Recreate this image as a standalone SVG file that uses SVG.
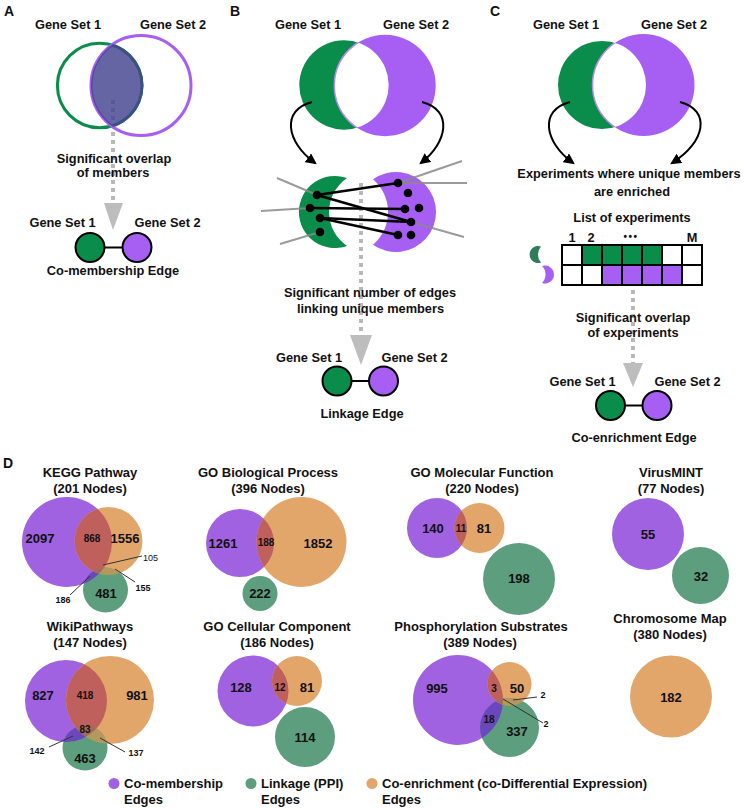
<svg xmlns="http://www.w3.org/2000/svg" width="744" height="809" viewBox="0 0 744 809">
<style>
text{font-family:"Liberation Sans",Arial,sans-serif;font-weight:bold;fill:#111}
.t{font-size:12.8px;text-anchor:middle}
.lab{font-size:14px}
.h{font-size:13px;text-anchor:middle}
.n{font-size:13px;text-anchor:middle}
.s{font-size:10px;text-anchor:middle}
.x{font-size:9px}
.lg{font-size:13px}
.dot{fill:none;stroke:#b8b8b8;stroke-width:4;stroke-dasharray:4 4}
.ah{fill:#bdbdbd}
.node{stroke:#000;stroke-width:2}
.g1{fill:#0a8c4a}
.p1{fill:#a65ff2}
.cv{fill:none;stroke:#000;stroke-width:2}
.bl{stroke:#000;stroke-width:2.5}
.gl{stroke:#8a8a8a;stroke-width:2;opacity:.85}
.P{fill:#a062e0}.O{fill:#e2a66b}.G{fill:#5c9e7e}
.PO{fill:#c0605c}.PG{fill:#6b47bd}.OG{fill:#b39a5c}.POG{fill:#a26b55}
.ld{stroke:#333;stroke-width:1}
</style>
<defs>
<marker id="arr" viewBox="0 0 10 10" refX="8" refY="5" markerWidth="11" markerHeight="11" markerUnits="userSpaceOnUse" orient="auto"><path d="M0,0 L10,5 L0,10 z" fill="#000"/></marker>
<clipPath id="cA"><circle cx="141" cy="85.5" r="50"/></clipPath>
<clipPath id="cB"><circle cx="344" cy="85" r="44.7"/></clipPath>
<clipPath id="cC"><circle cx="602" cy="85" r="44"/></clipPath>
<clipPath id="kP"><circle cx="67" cy="542" r="45"/></clipPath>
<clipPath id="kO"><circle cx="108.5" cy="541" r="34"/></clipPath>
<clipPath id="bP"><circle cx="240" cy="543" r="34"/></clipPath>
<clipPath id="mP"><circle cx="437" cy="528" r="30"/></clipPath>
<clipPath id="wP"><circle cx="66" cy="701" r="41"/></clipPath>
<clipPath id="wO"><circle cx="110" cy="700" r="44"/></clipPath>
<clipPath id="cP"><circle cx="253" cy="691" r="35.5"/></clipPath>
<clipPath id="pP"><circle cx="458" cy="700" r="45"/></clipPath>
<clipPath id="pO"><circle cx="509.5" cy="684" r="22"/></clipPath>
</defs>

<!-- Panel A -->
<g id="panelA">
<text class="lab" x="4" y="16">A</text>
<text class="t" x="68" y="29">Gene Set 1</text>
<text class="t" x="173" y="29">Gene Set 2</text>
<line class="dot" x1="113" y1="100" x2="113" y2="203"/>
<circle cx="99.7" cy="85.5" r="42.3" fill="none" stroke="#0a8c4a" stroke-width="3"/>
<circle cx="141" cy="85.5" r="50" fill="none" stroke="#a65ff2" stroke-width="3"/>
<circle cx="99.7" cy="85.5" r="43.8" clip-path="url(#cA)" fill="#43438f" fill-opacity="0.82"/>
<text class="t" x="114" y="163">Significant overlap</text>
<text class="t" x="113" y="177">of members</text>
<polygon class="ah" points="104,203 123,203 113,230"/>
</g>
<g id="edgeA">
<text class="t" x="62.5" y="227">Gene Set 1</text>
<text class="t" x="167.5" y="227">Gene Set 2</text>
<line x1="104" y1="247.5" x2="123" y2="247.5" stroke="#000" stroke-width="2"/>
<circle class="node g1" cx="90" cy="247.5" r="14.5"/>
<circle class="node p1" cx="137" cy="247.5" r="14.5"/>
<text class="t" x="113" y="275">Co-membership Edge</text>
</g>

<!-- Panel B -->
<g id="panelB">
<text class="lab" x="230" y="16">B</text>
<text class="t" x="308" y="29">Gene Set 1</text>
<text class="t" x="416" y="29">Gene Set 2</text>
<circle class="g1" cx="344" cy="85" r="44.7"/>
<circle class="p1" cx="385" cy="85.5" r="50.7"/>
<circle cx="385" cy="85.5" r="50.7" clip-path="url(#cB)" fill="#fff" stroke="#b98af5" stroke-width="1.5"/>
<path class="cv" d="M312,102 C281,110 286,142 315,163" marker-end="url(#arr)"/>
<path class="cv" d="M422,102 C453,110 448,142 421,163" marker-end="url(#arr)"/>
<line class="dot" x1="361" y1="183" x2="361" y2="335"/>
<path class="g1" d="M347,178.1 A36,36 0 1,0 347,245.9 A41,41 0 0,1 347,178.1 Z"/>
<path class="p1" d="M373,179.3 A40,40 0 1,1 373,244.7 A43,43 0 0,0 373,179.3 Z"/>
<line class="gl" x1="277" y1="178" x2="317" y2="195"/>
<line class="gl" x1="261" y1="211" x2="310" y2="208"/>
<line class="gl" x1="280" y1="244" x2="320" y2="232"/>
<line class="gl" x1="398" y1="183" x2="462" y2="161"/>
<line class="gl" x1="398" y1="183" x2="467" y2="183"/>
<line class="gl" x1="411" y1="222" x2="464" y2="237"/>
<line class="bl" x1="317" y1="195" x2="398" y2="183"/>
<line class="bl" x1="317" y1="195" x2="411" y2="222"/>
<line class="bl" x1="310" y1="208" x2="405" y2="209"/>
<line class="bl" x1="320" y1="218" x2="411" y2="222"/>
<line class="bl" x1="320" y1="218" x2="398" y2="235"/>
<g fill="#000">
<circle cx="317" cy="195" r="4.3"/><circle cx="310" cy="208" r="4.3"/><circle cx="320" cy="218" r="4.3"/><circle cx="320" cy="232" r="4.3"/>
<circle cx="398" cy="183" r="4.3"/><circle cx="408" cy="193" r="4.3"/><circle cx="405" cy="209" r="4.3"/><circle cx="419" cy="208" r="4.3"/><circle cx="411" cy="222" r="4.3"/><circle cx="398" cy="235" r="4.3"/><circle cx="411" cy="235" r="4.3"/>
</g>
<text class="t" x="370" y="297">Significant number of edges</text>
<text class="t" x="370.5" y="312.5">linking unique members</text>
<polygon class="ah" points="350,335 372,335 361,365"/>
</g>
<g id="edgeB">
<text class="t" x="309" y="361.5">Gene Set 1</text>
<text class="t" x="414.5" y="361.5">Gene Set 2</text>
<line x1="350" y1="381" x2="370" y2="381" stroke="#000" stroke-width="2"/>
<circle class="node g1" cx="337" cy="381" r="14.5"/>
<circle class="node p1" cx="383.5" cy="381" r="14.5"/>
<text class="t" x="362" y="418">Linkage Edge</text>
</g>

<!-- Panel C -->
<g id="panelC">
<text class="lab" x="490" y="16">C</text>
<text class="t" x="566" y="29">Gene Set 1</text>
<text class="t" x="674" y="29">Gene Set 2</text>
<circle class="g1" cx="602" cy="85" r="44"/>
<circle class="p1" cx="643.5" cy="85" r="51"/>
<circle cx="643.5" cy="85" r="51" clip-path="url(#cC)" fill="#fff" stroke="#b98af5" stroke-width="1.5"/>
<path class="cv" d="M570,102 C539,110 544,142 573,163" marker-end="url(#arr)"/>
<path class="cv" d="M680,102 C711,110 706,142 672,163" marker-end="url(#arr)"/>
<text class="t" x="629" y="178">Experiments where unique members</text>
<text class="t" x="632" y="196">are enriched</text>
<text class="t" x="632" y="222">List of experiments</text>
<text class="t" x="572" y="242">1</text>
<text class="t" x="591" y="242">2</text>
<text class="t" x="631" y="240" style="font-size:10px;letter-spacing:1.5px">•••</text>
<text class="t" x="692" y="242">M</text>
<path d="M541,246.5 A8.5,8.5 0 1,0 541,262.5 A12,12 0 0,1 541,246.5 Z" fill="#2f7d58"/>
<path d="M542,266 A9,9 0 1,1 542,283 A12,12 0 0,0 542,266 Z" fill="#a65ff2"/>
<g stroke="#000" stroke-width="2">
<rect x="582" y="245" width="80" height="20" fill="#0a8c4a" stroke="none"/>
<rect x="602" y="265" width="80" height="20" fill="#a65ff2" stroke="none"/>
<rect x="562" y="245" width="140" height="40" fill="none"/>
<line x1="562" y1="265" x2="702" y2="265"/>
<line x1="582" y1="245" x2="582" y2="285"/>
<line x1="602" y1="245" x2="602" y2="285"/>
<line x1="622" y1="245" x2="622" y2="285"/>
<line x1="642" y1="245" x2="642" y2="285"/>
<line x1="662" y1="245" x2="662" y2="285"/>
<line x1="682" y1="245" x2="682" y2="285"/>
</g>
<line class="dot" x1="633" y1="290" x2="633" y2="363"/>
<text class="t" x="633" y="322">Significant overlap</text>
<text class="t" x="633" y="337">of experiments</text>
<polygon class="ah" points="623,363 643,363 633,387"/>
</g>
<g id="edgeC">
<text class="t" x="582.5" y="386">Gene Set 1</text>
<text class="t" x="687.5" y="386">Gene Set 2</text>
<line x1="624" y1="405.5" x2="643" y2="405.5" stroke="#000" stroke-width="2"/>
<circle class="node g1" cx="610.5" cy="405.5" r="14.5"/>
<circle class="node p1" cx="657" cy="405.5" r="14.5"/>
<text class="t" x="634" y="442">Co-enrichment Edge</text>
</g>

<!-- Panel D -->
<text class="lab" x="3" y="468">D</text>

<g id="kegg">
<text class="h" x="90" y="477">KEGG Pathway</text>
<text class="h" x="90" y="493">(201 Nodes)</text>
<circle class="P" cx="67" cy="542" r="45"/>
<circle class="O" cx="108.5" cy="541" r="34"/>
<circle class="G" cx="105.5" cy="590" r="22.5"/>
<circle class="PO" cx="108.5" cy="541" r="34" clip-path="url(#kP)"/>
<circle class="PG" cx="105.5" cy="590" r="22.5" clip-path="url(#kP)"/>
<circle class="OG" cx="105.5" cy="590" r="22.5" clip-path="url(#kO)"/>
<g clip-path="url(#kP)"><circle class="POG" cx="105.5" cy="590" r="22.5" clip-path="url(#kO)"/></g>
<text class="n" x="40" y="543">2097</text>
<text class="s" x="92" y="542">868</text>
<text class="n" x="125" y="543">1556</text>
<text class="n" x="106" y="598">481</text>
<line class="ld" x1="142" y1="556" x2="103" y2="565"/>
<line class="ld" x1="135" y1="582" x2="115" y2="569"/>
<line class="ld" x1="70" y1="595" x2="90" y2="576"/>
<text class="x" x="143" y="561" style="font-weight:normal">105</text>
<text class="x" x="143" y="591" text-anchor="middle">155</text>
<text class="x" x="63" y="603" text-anchor="middle">186</text>
</g>

<g id="gobp">
<text class="h" x="268" y="477">GO Biological Process</text>
<text class="h" x="268" y="493">(396 Nodes)</text>
<circle class="P" cx="240" cy="543" r="34"/>
<circle class="O" cx="301.5" cy="542" r="45"/>
<circle class="G" cx="260" cy="593.5" r="17.5"/>
<circle class="PO" cx="301.5" cy="542" r="45" clip-path="url(#bP)"/>
<text class="n" x="223" y="548">1261</text>
<text class="s" x="266" y="546">188</text>
<text class="n" x="318" y="548">1852</text>
<text class="n" x="260" y="598">222</text>
</g>

<g id="gomf">
<text class="h" x="482" y="477">GO Molecular Function</text>
<text class="h" x="482" y="493">(220 Nodes)</text>
<circle class="P" cx="437" cy="528" r="30"/>
<circle class="O" cx="479.5" cy="528" r="25"/>
<circle class="G" cx="519" cy="579" r="36"/>
<circle class="PO" cx="479.5" cy="528" r="25" clip-path="url(#mP)"/>
<text class="n" x="433" y="533">140</text>
<text class="s" x="461" y="532">11</text>
<text class="n" x="484" y="533">81</text>
<text class="n" x="519" y="583">198</text>
</g>

<g id="virusmint">
<text class="h" x="671" y="477">VirusMINT</text>
<text class="h" x="671" y="493">(77 Nodes)</text>
<circle class="P" cx="648" cy="534" r="36"/>
<circle class="G" cx="700.5" cy="575.5" r="28.5"/>
<text class="n" x="648" y="539">55</text>
<text class="n" x="701" y="581">32</text>
</g>

<g id="wiki">
<text class="h" x="90" y="631">WikiPathways</text>
<text class="h" x="90" y="647">(147 Nodes)</text>
<circle class="P" cx="66" cy="701" r="41"/>
<circle class="O" cx="110" cy="700" r="44"/>
<circle class="G" cx="85" cy="748" r="22.5"/>
<circle class="PO" cx="110" cy="700" r="44" clip-path="url(#wP)"/>
<circle class="PG" cx="85" cy="748" r="22.5" clip-path="url(#wP)"/>
<circle class="OG" cx="85" cy="748" r="22.5" clip-path="url(#wO)"/>
<g clip-path="url(#wP)"><circle class="POG" cx="85" cy="748" r="22.5" clip-path="url(#wO)"/></g>
<text class="n" x="43" y="700">827</text>
<text class="s" x="85" y="699">418</text>
<text class="n" x="137" y="700">981</text>
<text class="s" x="85" y="733">83</text>
<text class="n" x="85" y="763">463</text>
<line class="ld" x1="49" y1="747" x2="73" y2="736"/>
<line class="ld" x1="125" y1="752" x2="100" y2="738"/>
<text class="x" x="37" y="754" text-anchor="middle">142</text>
<text class="x" x="136" y="756" text-anchor="middle">137</text>
</g>

<g id="gocc">
<text class="h" x="277" y="631">GO Cellular Component</text>
<text class="h" x="277" y="647">(186 Nodes)</text>
<circle class="P" cx="253" cy="691" r="35.5"/>
<circle class="O" cx="297" cy="681" r="25"/>
<circle class="G" cx="305" cy="737" r="30"/>
<circle class="PO" cx="297" cy="681" r="25" clip-path="url(#cP)"/>
<text class="n" x="241" y="692">128</text>
<text class="s" x="280" y="691">12</text>
<text class="n" x="307" y="692">81</text>
<text class="n" x="305" y="742">114</text>
</g>

<g id="phospho">
<text class="h" x="481" y="631">Phosphorylation Substrates</text>
<text class="h" x="480" y="647">(389 Nodes)</text>
<circle class="P" cx="458" cy="700" r="45"/>
<circle class="O" cx="509.5" cy="684" r="22"/>
<circle class="G" cx="509.5" cy="727.5" r="29.5"/>
<circle class="PO" cx="509.5" cy="684" r="22" clip-path="url(#pP)"/>
<circle class="PG" cx="509.5" cy="727.5" r="29.5" clip-path="url(#pP)"/>
<circle class="OG" cx="509.5" cy="727.5" r="29.5" clip-path="url(#pO)"/>
<g clip-path="url(#pP)"><circle class="POG" cx="509.5" cy="727.5" r="29.5" clip-path="url(#pO)"/></g>
<text class="n" x="437" y="693">995</text>
<text class="s" x="494" y="692">3</text>
<text class="n" x="517" y="693">50</text>
<text class="s" x="489" y="723">18</text>
<text class="n" x="517" y="736">337</text>
<line class="ld" x1="537" y1="697" x2="513" y2="700"/>
<line class="ld" x1="543" y1="723" x2="503" y2="699"/>
<text class="x" x="543" y="697.5" text-anchor="middle">2</text>
<text class="x" x="546" y="726.5" text-anchor="middle">2</text>
</g>

<g id="chromosome">
<text class="h" x="670" y="623">Chromosome Map</text>
<text class="h" x="670" y="639">(380 Nodes)</text>
<circle class="O" cx="671" cy="696.5" r="41"/>
<text class="n" x="671" y="702">182</text>
</g>

<g id="legend">
<circle class="P" cx="114" cy="783.5" r="5.5"/>
<text class="lg" x="124" y="788">Co-membership</text>
<text class="lg" x="124" y="804">Edges</text>
<circle class="G" cx="251" cy="783.5" r="5.5"/>
<text class="lg" x="261" y="788">Linkage (PPI)</text>
<text class="lg" x="261" y="804">Edges</text>
<circle class="O" cx="372" cy="783.5" r="5.5"/>
<text class="lg" x="382" y="788">Co-enrichment (co-Differential Expression)</text>
<text class="lg" x="382" y="804">Edges</text>
</g>
</svg>
